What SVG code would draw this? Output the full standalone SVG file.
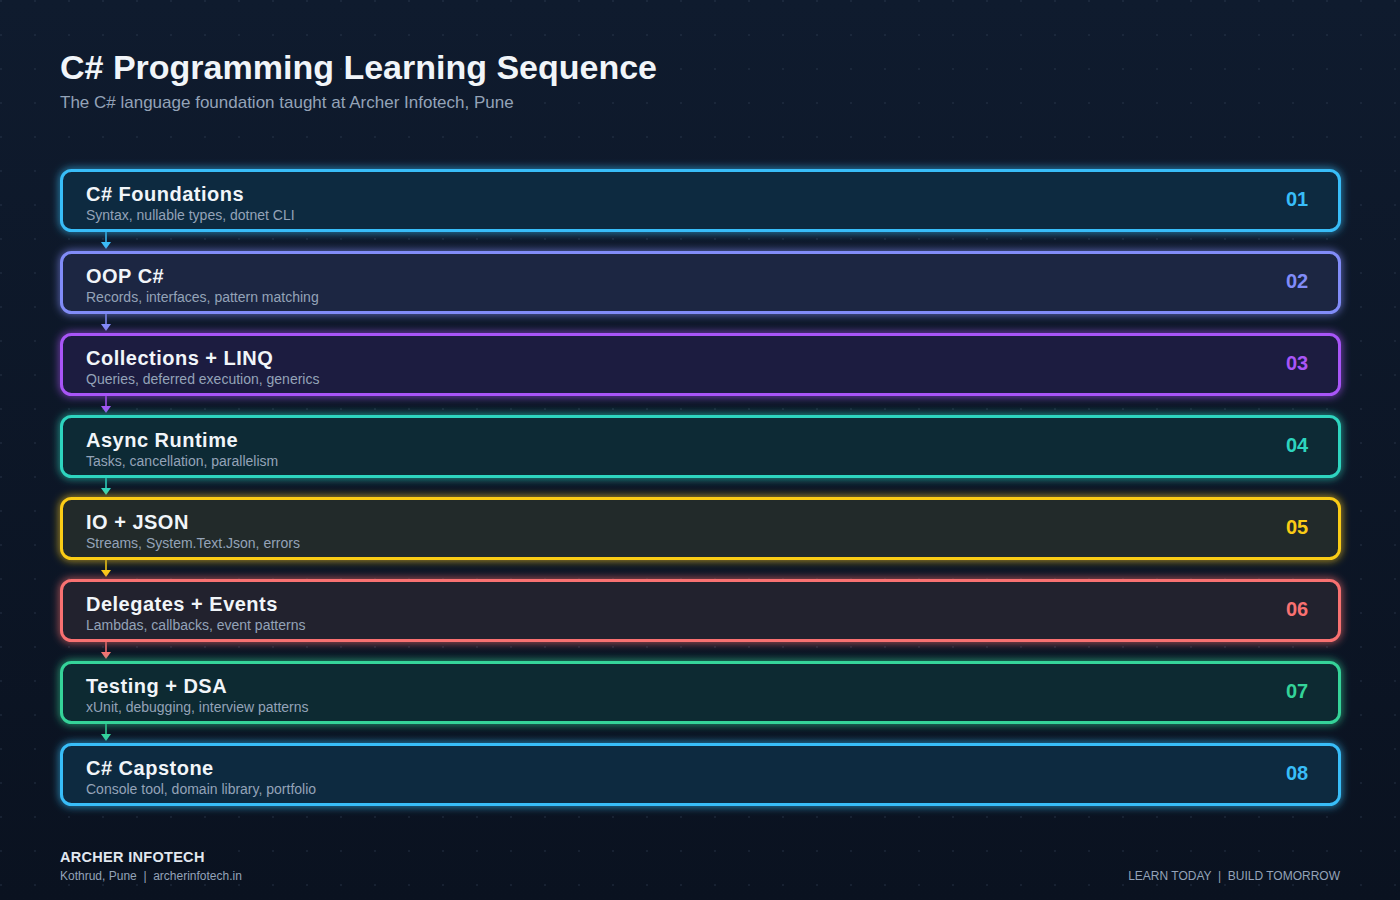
<svg xmlns="http://www.w3.org/2000/svg" width="1400" height="900" viewBox="0 0 1400 900">
<defs>
<linearGradient id="bg" x1="0" y1="0" x2="0" y2="1">
<stop offset="0" stop-color="#0f1b2e"/>
<stop offset="1" stop-color="#0a1220"/>
</linearGradient>
<pattern id="dots" width="34" height="34" patternUnits="userSpaceOnUse">
<circle cx="1" cy="1" r="0.8" fill="#3a4a60" fill-opacity="0.6"/>
</pattern>
<filter id="glow" x="-5%" y="-40%" width="110%" height="180%">
<feGaussianBlur in="SourceGraphic" stdDeviation="4" result="b"/>
<feMerge><feMergeNode in="b"/><feMergeNode in="SourceGraphic"/></feMerge>
</filter>
</defs>
<style>
.t{font-family:"Liberation Sans",Arial,sans-serif;font-weight:bold;font-size:20px;fill:#f1f5f9;letter-spacing:0.5px}
.s{font-family:"Liberation Sans",Arial,sans-serif;font-size:14px;fill:#94a3b8}
.n{font-family:"Liberation Sans",Arial,sans-serif;font-weight:bold;font-size:20px;text-anchor:middle}
.box{stroke-width:3}
.c{stroke-width:1.5;fill:none}
</style>
<rect width="1400" height="900" fill="url(#bg)"/>
<rect width="1400" height="900" fill="url(#dots)"/>

<text x="60" y="79" font-family="Liberation Sans, Arial, sans-serif" font-weight="bold" font-size="34" fill="#f1f5f9">C# Programming Learning Sequence</text>
<text x="60" y="108" font-family="Liberation Sans, Arial, sans-serif" font-size="17" fill="#94a3b8">The C# language foundation taught at Archer Infotech, Pune</text>

<g id="connectors">
<line class="c" x1="106" y1="231" x2="106" y2="244" stroke="#38bdf8"/><path d="M101,242 L111,242 L106,249 Z" fill="#38bdf8"/>
<line class="c" x1="106" y1="313" x2="106" y2="326" stroke="#818cf8"/><path d="M101,324 L111,324 L106,331 Z" fill="#818cf8"/>
<line class="c" x1="106" y1="395" x2="106" y2="408" stroke="#a855f7"/><path d="M101,406 L111,406 L106,413 Z" fill="#a855f7"/>
<line class="c" x1="106" y1="477" x2="106" y2="490" stroke="#2dd4bf"/><path d="M101,488 L111,488 L106,495 Z" fill="#2dd4bf"/>
<line class="c" x1="106" y1="559" x2="106" y2="572" stroke="#facc15"/><path d="M101,570 L111,570 L106,577 Z" fill="#facc15"/>
<line class="c" x1="106" y1="641" x2="106" y2="654" stroke="#f87171"/><path d="M101,652 L111,652 L106,659 Z" fill="#f87171"/>
<line class="c" x1="106" y1="723" x2="106" y2="736" stroke="#34d399"/><path d="M101,734 L111,734 L106,741 Z" fill="#34d399"/>
</g>

<g id="node1">
<rect class="box" x="61.5" y="170.5" width="1278" height="60" rx="10" fill="#112a40" stroke="#38bdf8" filter="url(#glow)"/>
<text class="t" x="86" y="201">C# Foundations</text>
<text class="s" x="86" y="220">Syntax, nullable types, dotnet CLI</text>
<text class="n" x="1297" y="206" fill="#38bdf8">01</text>
</g>
<g id="node2">
<rect class="box" x="61.5" y="252.5" width="1278" height="60" rx="10" fill="#1c2642" stroke="#818cf8" filter="url(#glow)"/>
<text class="t" x="86" y="283">OOP C#</text>
<text class="s" x="86" y="302">Records, interfaces, pattern matching</text>
<text class="n" x="1297" y="288" fill="#818cf8">02</text>
</g>
<g id="node3">
<rect class="box" x="61.5" y="334.5" width="1278" height="60" rx="10" fill="#1e1e40" stroke="#a855f7" filter="url(#glow)"/>
<text class="t" x="86" y="365">Collections + LINQ</text>
<text class="s" x="86" y="384">Queries, deferred execution, generics</text>
<text class="n" x="1297" y="370" fill="#a855f7">03</text>
</g>
<g id="node4">
<rect class="box" x="61.5" y="416.5" width="1278" height="60" rx="10" fill="#0f2a35" stroke="#2dd4bf" filter="url(#glow)"/>
<text class="t" x="86" y="447">Async Runtime</text>
<text class="s" x="86" y="466">Tasks, cancellation, parallelism</text>
<text class="n" x="1297" y="452" fill="#2dd4bf">04</text>
</g>
<g id="node5">
<rect class="box" x="61.5" y="498.5" width="1278" height="60" rx="10" fill="#242a2c" stroke="#facc15" filter="url(#glow)"/>
<text class="t" x="86" y="529">IO + JSON</text>
<text class="s" x="86" y="548">Streams, System.Text.Json, errors</text>
<text class="n" x="1297" y="534" fill="#facc15">05</text>
</g>
<g id="node6">
<rect class="box" x="61.5" y="580.5" width="1278" height="60" rx="10" fill="#24222e" stroke="#f87171" filter="url(#glow)"/>
<text class="t" x="86" y="611">Delegates + Events</text>
<text class="s" x="86" y="630">Lambdas, callbacks, event patterns</text>
<text class="n" x="1297" y="616" fill="#f87171">06</text>
</g>
<g id="node7">
<rect class="box" x="61.5" y="662.5" width="1278" height="60" rx="10" fill="#0f2a30" stroke="#34d399" filter="url(#glow)"/>
<text class="t" x="86" y="693">Testing + DSA</text>
<text class="s" x="86" y="712">xUnit, debugging, interview patterns</text>
<text class="n" x="1297" y="698" fill="#34d399">07</text>
</g>
<g id="node8">
<rect class="box" x="61.5" y="744.5" width="1278" height="60" rx="10" fill="#112a40" stroke="#38bdf8" filter="url(#glow)"/>
<text class="t" x="86" y="775">C# Capstone</text>
<text class="s" x="86" y="794">Console tool, domain library, portfolio</text>
<text class="n" x="1297" y="780" fill="#38bdf8">08</text>
</g>

<text x="60" y="862" font-family="Liberation Sans, Arial, sans-serif" font-weight="bold" font-size="14.5" letter-spacing="0.3" fill="#e2e8f0">ARCHER INFOTECH</text>
<text x="60" y="880" font-family="Liberation Sans, Arial, sans-serif" font-size="12" fill="#94a3b8" xml:space="preserve">Kothrud, Pune  |  archerinfotech.in</text>
<text x="1340" y="880" text-anchor="end" font-family="Liberation Sans, Arial, sans-serif" font-size="12" fill="#94a3b8" xml:space="preserve">LEARN TODAY  |  BUILD TOMORROW</text>
</svg>
